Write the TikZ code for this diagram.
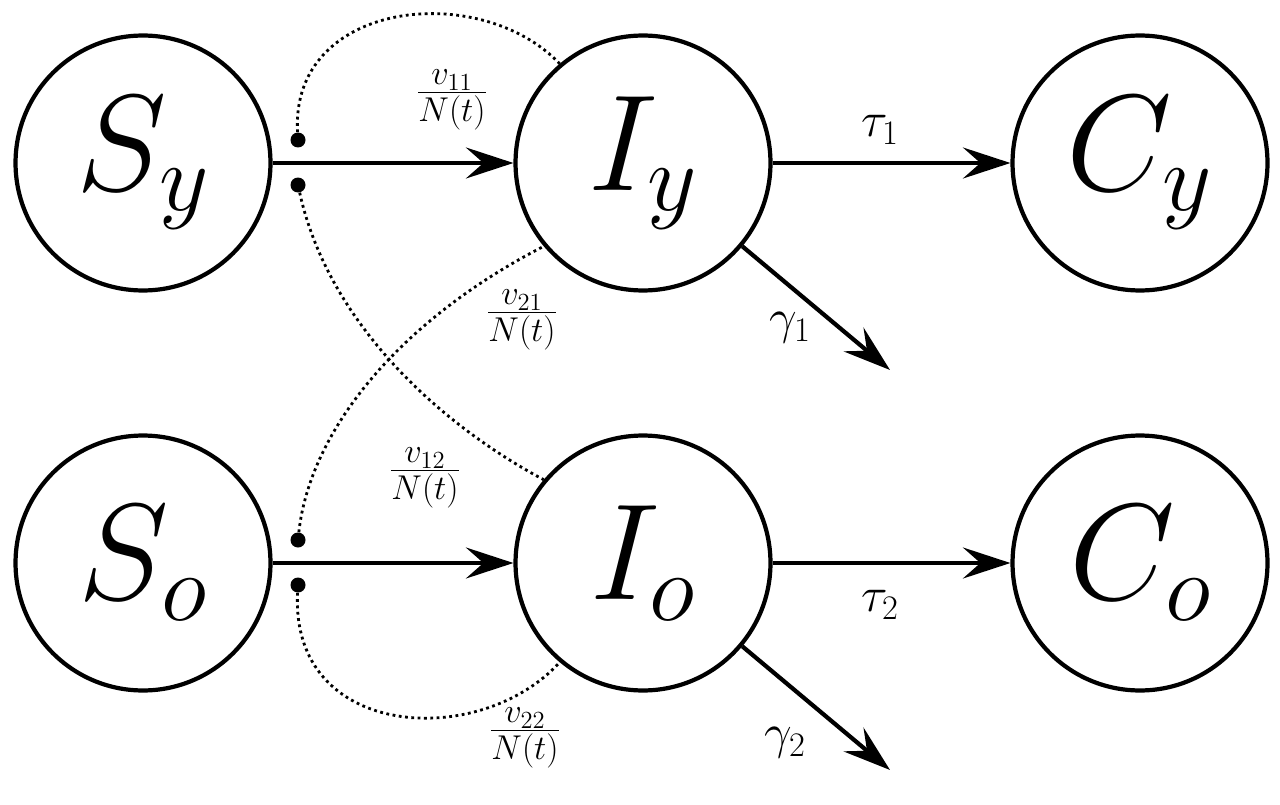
\RequirePackage{fix-cm}
\documentclass[tikz,border=0pt]{standalone}
\usetikzlibrary{arrows.meta}
\begin{document}
\begin{tikzpicture}[x=0.02cm,y=-0.02cm,
  st/.style={circle,draw,line width=2.4pt,minimum size=5.1cm,inner sep=0pt,font=\fontsize{78}{90}\selectfont},
  ar/.style={line width=2.4pt,-{Stealth[length=0.95cm,width=0.62cm,inset=0.35cm]}},
  dt/.style={dotted,line width=1.6pt},
  lb/.style={font=\fontsize{28}{32}\selectfont},
  dot/.style={circle,fill,inner sep=0pt,minimum size=0.3cm}]
\useasboundingbox (0,0) rectangle (1280,804);
\node[st] (Sy) at (143,163) {$S_y$};
\node[st] (Iy) at (643,163) {$I_y$};
\node[st] (Cy) at (1140,163) {$C_y$};
\node[st] (So) at (143,563) {$S_o$};
\node[st] (Io) at (643,563) {$I_o$};
\node[st] (Co) at (1140,563) {$C_o$};
\node[dot] (d1) at (298,140) {};
\node[dot] (d2) at (298,185) {};
\node[dot] (d3) at (298,540) {};
\node[dot] (d4) at (298,585) {};
\coordinate (g1) at (890,370);
\coordinate (g2) at (890,770);
\draw[ar] (Sy) -- (Iy);
\draw[ar] (So) -- (Io);
\draw[ar] (Iy) -- (Cy);
\draw[ar] (Io) -- (Co);
\draw[ar] (Iy.-40) -- (g1);
\draw[ar] (Io.-40) -- (g2);
\draw[dt] (d1) .. controls (290,0) and (480,-20) .. (Iy.130);
\draw[dt] (d2) .. controls (330,330) and (450,430) .. (Io.140);
\draw[dt] (d3) .. controls (310,430) and (400,320) .. (Iy.220);
\draw[dt] (d4) .. controls (290,740) and (480,750) .. (Io.230);
\node[lb] (l1) at (452,100) {$\frac{v_{11}}{N(t)}$};
\node[lb] (l2) at (522,320) {$\frac{v_{21}}{N(t)}$};
\node[lb] (l3) at (425,478) {$\frac{v_{12}}{N(t)}$};
\node[lb] (l4) at (525,738) {$\frac{v_{22}}{N(t)}$};
\node[lb] (t1) at (880,130) {$\tau_1$};
\node[lb] (t2) at (880,605) {$\tau_2$};
\node[lb] (q1) at (790,328) {$\gamma_1$};
\node[lb] (q2) at (785,743) {$\gamma_2$};
\end{tikzpicture}
\end{document}
